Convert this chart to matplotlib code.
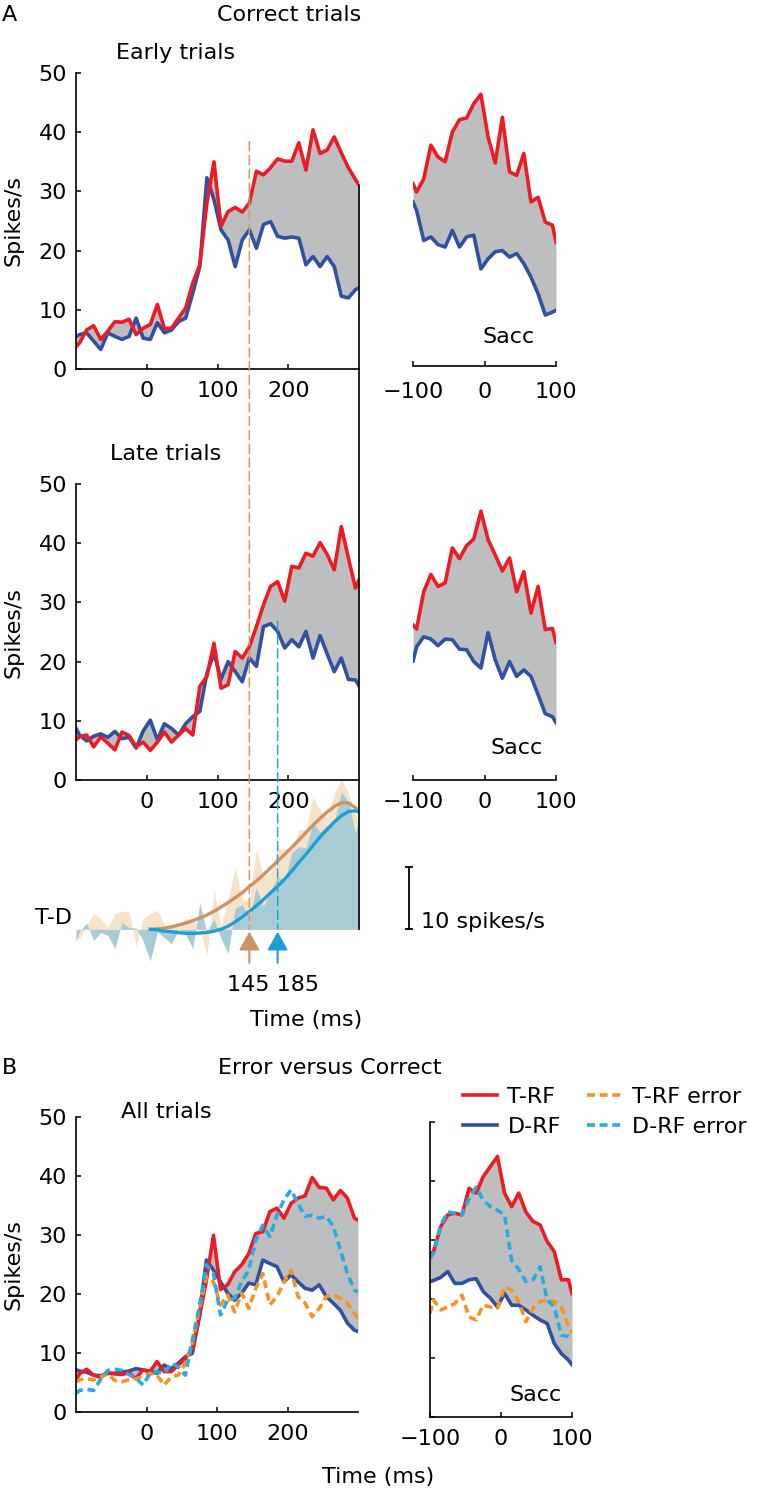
import matplotlib.pyplot as plt
import numpy as np
from matplotlib.patches import ConnectionPatch

plt.rcParams['font.family'] = ['DejaVu Sans']
plt.rcParams['font.size'] = 16

W, H = 763, 1491

# time bins (ms): aligned on stimulus and on saccade
t_stim = np.r_[-100, np.arange(-95, 300, 10), 300]
t_sacc = np.r_[-100, np.arange(-95, 100, 10), 100]
t_fit = np.r_[np.arange(5, 300, 10), 300]

# A, early trials (spikes/s)
early_t = [3.8, 4.4, 6.6, 7.3, 5.0, 6.4, 8.0, 7.9, 8.4, 5.8, 6.9, 7.5, 10.9, 6.8,
           6.9, 8.6, 10.3, 14.5, 17.6, 28.0, 35.0, 24.1, 26.6, 27.3, 26.5, 28.0,
           33.4, 32.8, 34.0, 35.5, 35.1, 35.1, 38.2, 33.6, 40.4, 36.4, 37.0, 39.2,
           36.5, 34.0, 32.0, 31.1]
early_d = [5.5, 5.8, 6.1, 4.7, 3.3, 6.1, 5.5, 5.0, 5.5, 8.6, 5.2, 5.0, 7.8, 6.1,
           6.6, 8.0, 8.6, 12.8, 17.3, 32.3, 28.6, 23.5, 21.8, 17.3, 21.8, 23.5,
           20.4, 24.4, 24.9, 22.4, 22.1, 22.3, 22.1, 17.6, 19.0, 17.3, 19.0, 17.3,
           12.3, 12.0, 13.4, 13.7]
early_t_sacc = [30.8, 29.4, 31.6, 37.3, 35.3, 34.5, 39.5, 41.6, 41.9, 44.3, 45.9,
                38.7, 34.3, 42.0, 32.8, 32.2, 35.9, 27.7, 28.5, 24.3, 23.8, 20.9]
early_d_sacc = [27.7, 26.3, 21.2, 21.8, 20.5, 20.1, 22.9, 20.1, 21.8, 22.1, 16.4,
                18.1, 19.3, 19.5, 18.4, 19.0, 17.3, 15.0, 12.2, 8.6, 9.1, 9.4]

# A, late trials
late_t = [6.8, 7.3, 7.6, 5.6, 7.3, 6.2, 5.1, 8.1, 7.5, 5.6, 6.4, 5.0, 6.4, 8.1,
          6.4, 7.6, 8.7, 7.6, 15.8, 17.5, 23.1, 15.5, 16.1, 21.7, 20.6, 22.5,
          25.9, 29.6, 32.7, 33.5, 30.2, 36.1, 35.8, 38.3, 37.8, 40.1, 38.1, 35.5,
          42.8, 37.5, 32.4, 33.8]
late_d = [8.7, 7.6, 6.6, 7.4, 7.8, 7.2, 8.2, 7.0, 7.2, 5.4, 8.3, 10.1, 6.8, 9.5,
          8.7, 7.6, 9.5, 10.7, 11.6, 18.0, 21.4, 17.0, 20.0, 18.3, 16.6, 20.6,
          19.2, 25.9, 26.4, 25.1, 22.3, 23.7, 22.5, 25.1, 20.6, 24.4, 21.3, 18.3,
          20.6, 17.0, 16.9, 15.9]
late_t_sacc = [26.2, 25.5, 31.8, 34.7, 32.7, 33.3, 39.2, 37.4, 39.6, 40.7, 45.4,
               40.6, 38.0, 35.3, 37.5, 31.8, 35.2, 28.2, 32.7, 25.4, 25.6, 23.2]
late_d_sacc = [20.1, 22.5, 24.2, 23.8, 22.7, 23.8, 23.7, 22.1, 22.0, 20.0, 18.9,
               24.9, 20.3, 17.2, 20.0, 17.5, 18.6, 17.5, 14.4, 11.2, 10.7, 9.7]

# fitted T-D curves and onsets
fit_early = [0.0, 0.05, 0.2, 0.4, 0.7, 1.0, 1.4, 1.8, 2.3, 2.9, 3.6, 4.3, 5.1, 5.9,
             6.9, 7.8, 8.8, 9.9, 11.0, 12.1, 13.2, 14.4, 15.6, 16.8, 17.9, 18.9,
             19.8, 20.4, 20.4, 19.6, 19.0]
fit_late = [0.0, -0.1, -0.3, -0.4, -0.55, -0.65, -0.65, -0.6, -0.5, -0.3, 0.0, 0.5,
            1.2, 2.0, 2.9, 3.8, 4.8, 5.9, 6.9, 8.1, 9.4, 10.8, 12.1, 13.5, 14.9,
            16.1, 17.3, 18.3, 19.0, 19.1, 18.9]
onset_early = 145
onset_late = 185

# B, all trials, correct and error
all_t = [5.4, 6.4, 7.2, 6.2, 5.8, 6.6, 6.4, 6.3, 6.6, 5.6, 7.1, 6.8, 8.5, 6.8,
         6.8, 7.9, 9.0, 10.7, 16.1, 22.3, 29.9, 20.7, 21.5, 23.7, 24.9, 26.8,
         30.2, 30.5, 33.9, 34.5, 32.8, 35.3, 36.2, 36.6, 39.7, 38.0, 37.9, 35.9,
         37.5, 36.2, 32.8, 32.5]
all_d = [7.1, 6.9, 6.7, 6.2, 6.1, 6.5, 6.5, 6.7, 6.9, 7.3, 7.1, 6.8, 6.5, 7.9,
         7.3, 8.2, 9.3, 9.9, 16.1, 25.7, 24.0, 22.0, 20.1, 18.9, 20.1, 21.8,
         21.5, 25.7, 25.1, 24.6, 22.0, 23.2, 22.0, 20.9, 20.6, 21.5, 19.5, 18.4,
         17.2, 15.0, 13.8, 13.6]
all_t_err = [5.1, 5.4, 5.6, 5.4, 5.9, 6.5, 5.3, 5.1, 5.4, 5.6, 5.9, 6.5, 6.2, 4.5,
             5.9, 6.2, 8.2, 11.6, 17.5, 22.9, 22.0, 18.1, 19.8, 16.9, 20.1, 17.5,
             20.9, 23.4, 18.1, 19.5, 22.0, 24.0, 19.5, 18.4, 16.1, 17.5, 19.5, 19.8,
             19.2, 18.4, 16.7, 15.8]
all_d_err = [3.1, 3.6, 3.8, 3.6, 5.5, 7.0, 7.2, 7.0, 6.3, 5.7, 4.5, 6.5, 6.8, 6.5,
             8.2, 7.6, 6.2, 12.1, 17.8, 24.9, 23.4, 16.4, 18.9, 19.2, 22.0, 24.0,
             29.1, 31.6, 29.7, 33.3, 35.9, 37.6, 35.3, 33.1, 33.3, 32.8, 33.1, 31.4,
             27.4, 23.4, 20.6, 20.3]
all_t_sacc = [27.4, 28.0, 32.2, 34.2, 34.5, 34.2, 38.7, 37.9, 40.7, 42.4, 44.1,
              37.9, 35.6, 37.9, 34.7, 33.1, 32.5, 29.7, 28.0, 23.2, 23.2, 20.9]
all_d_sacc = [22.9, 23.1, 23.6, 24.6, 22.6, 22.6, 23.2, 23.4, 21.2, 20.1, 18.6,
              20.9, 18.9, 18.9, 18.1, 17.2, 16.4, 15.8, 12.4, 10.7, 9.6, 8.8]
all_t_err_sacc = [17.5, 19.8, 18.1, 18.6, 19.2, 20.6, 16.9, 16.4, 18.9, 18.6, 18.4,
                  22.0, 21.5, 19.5, 16.1, 18.4, 19.5, 19.8, 19.5, 18.6, 15.3, 14.1]
all_d_err_sacc = [26.8, 27.7, 32.5, 34.7, 34.5, 34.2, 37.0, 38.9, 36.7, 35.6, 35.0,
                  34.2, 26.5, 25.0, 22.9, 23.2, 25.4, 19.8, 18.6, 13.8, 13.6, 13.0]

red = '#ed1c24'
blue = '#3050a0'
gray = '#bcbec0'
orange = '#f7941d'
cyan = '#29abe2'
brown = '#cd9360'
teal_line = '#1e9fd4'
tan_fill = '#f6e3c9'
teal_fill = '#a8ccd4'
dash = (0, (2.2, 1.3))

fig = plt.figure(figsize=(W / 100, H / 100), dpi=100)


def box(left, right, top, bottom):
    return fig.add_axes([left / W, 1 - bottom / H, (right - left) / W, (bottom - top) / H])


def ftext(x, y, s, **kw):
    fig.text(x / W, 1 - y / H, s, **kw)


def style(ax, xlim, xticks, yaxis=True, ylabels=True, xpad=8.5):
    ax.set_facecolor('none')
    ax.set_xlim(*xlim)
    ax.set_ylim(0, 50)
    ax.set_xticks(xticks)
    ax.set_yticks(range(0, 51, 10))
    for s in ['top', 'right']:
        ax.spines[s].set_visible(False)
    for s in ['left', 'bottom']:
        ax.spines[s].set_linewidth(1.2)
    ax.tick_params(direction='in', length=3.5, width=1.1)
    ax.tick_params(axis='x', pad=xpad)
    ax.tick_params(axis='y', pad=6.5)
    if not yaxis:
        ax.spines['left'].set_visible(False)
        ax.tick_params(axis='y', left=False, labelleft=False)
    elif not ylabels:
        ax.tick_params(axis='y', labelleft=False)


def panel(ax, t, tr, dr):
    ax.fill_between(t, tr, dr, color=gray, lw=0)
    ax.plot(t, dr, color=blue, lw=2.6)
    ax.plot(t, tr, color=red, lw=2.6)


# ---- A: early trials
ax1 = box(76, 359, 73, 369)
style(ax1, (-100, 300), [0, 100, 200])
panel(ax1, t_stim, early_t, early_d)
ax1.text(41, 53.4, 'Early trials', ha='center', va='center')

ax1r = box(413, 556, 70, 366)
style(ax1r, (-100, 100), [-100, 0, 100], yaxis=False, xpad=11.5)
panel(ax1r, t_sacc, early_t_sacc, early_d_sacc)
ax1r.text(34, 4.9, 'Sacc', ha='center', va='center')

# ---- A: late trials
ax2 = box(76, 359, 484, 780)
style(ax2, (-100, 300), [0, 100, 200])
panel(ax2, t_stim, late_t, late_d)
ax2.text(26, 55, 'Late trials', ha='center', va='center')

ax2r = box(413, 556, 484, 780)
style(ax2r, (-100, 100), [-100, 0, 100], yaxis=False)
panel(ax2r, t_sacc, late_t_sacc, late_d_sacc)
ax2r.text(45, 5.4, 'Sacc', ha='center', va='center')

# ---- A: T-D difference
base, k = 929.3, 6.2
ax3 = box(76, 359, base - 24 * k, base + 8 * k)
ax3.set_zorder(-0.5)
ax3.set_facecolor('none')
ax3.set_xlim(-100, 300)
ax3.set_ylim(-8, 24)
ax3.axis('off')
ax3.fill_between(t_stim, np.subtract(early_t, early_d), 0, color=tan_fill, lw=0)
ax3.fill_between(t_stim, np.subtract(late_t, late_d), 0, color=teal_fill, lw=0)
ax3.plot(t_fit, fit_early, color=brown, lw=2.4)
ax3.plot(t_fit, fit_late, color=teal_line, lw=2.4)
for t0, c in [(onset_early, brown), (onset_late, teal_line)]:
    ax3.annotate('', xy=(t0, -0.4), xytext=(t0, -5.4), annotation_clip=False,
                 arrowprops=dict(arrowstyle='-|>,head_length=0.8,head_width=0.45',
                                 mutation_scale=14, color=c, lw=1.5,
                                 shrinkA=0, shrinkB=0))
ax3.text(178, -9.0, f'{onset_early} {onset_late}', ha='center', va='center',
         clip_on=False)
ax3.text(-105, 1.8, 'T-D', ha='right', va='center', clip_on=False)
ax3.plot([370, 370], [0, 10], color='k', lw=1.3, clip_on=False)
ax3.plot([370, 370], [0, 10], ls='none', marker='_', ms=6, mew=1.3, color='k',
         clip_on=False)
ax3.text(387, 1.2, '10 spikes/s', ha='left', va='center', clip_on=False)


def link(axA, xyA, axB, xyB, **kw):
    con = ConnectionPatch(xyA=xyA, coordsA=axA.transData, xyB=xyB,
                          coordsB=axB.transData, **kw)
    fig.add_artist(con)


link(ax1, (300, early_t[-1]), ax3, (300, 0), color='k', lw=1.2)
link(ax1, (onset_early, 38.4), ax3, (onset_early, 0), color='#d8975f', lw=1.1,
     linestyle=(0, (6, 3)))
link(ax2, (onset_late, 26.8), ax3, (onset_late, 0), color='#2aa4d5', lw=1.1,
     linestyle=(0, (6, 3)))

# ---- B: error versus correct
ax4 = box(76, 358, 1116.7, 1411.7)
style(ax4, (-100, 300), [0, 100, 200])
ax4.fill_between(t_stim, all_t, all_d, color=gray, lw=0)
h_d, = ax4.plot(t_stim, all_d, color=blue, lw=2.6, label='D-RF')
h_t, = ax4.plot(t_stim, all_t, color=red, lw=2.6, label='T-RF')
h_te, = ax4.plot(t_stim, all_t_err, color=orange, lw=2.6, ls=dash, label='T-RF error')
h_de, = ax4.plot(t_stim, all_d_err, color=cyan, lw=2.6, ls=dash, label='D-RF error')
ax4.text(28, 50.8, 'All trials', ha='center', va='center')

ax4r = box(430, 572, 1121.7, 1416.7)
style(ax4r, (-100, 100), [-100, 0, 100], ylabels=False)
ax4r.fill_between(t_sacc, all_t_sacc, all_d_sacc, color=gray, lw=0)
ax4r.plot(t_sacc, all_d_sacc, color=blue, lw=2.6)
ax4r.plot(t_sacc, all_t_sacc, color=red, lw=2.6)
ax4r.plot(t_sacc, all_t_err_sacc, color=orange, lw=2.6, ls=dash)
ax4r.plot(t_sacc, all_d_err_sacc, color=cyan, lw=2.6, ls=dash)
ax4r.text(49, 3.7, 'Sacc', ha='center', va='center')

fig.legend([h_t, h_d, h_te, h_de], ['T-RF', 'D-RF', 'T-RF error', 'D-RF error'],
           loc='upper left', bbox_to_anchor=(463 / W, 1 - 1087 / H), ncol=2,
           frameon=False, borderaxespad=0, borderpad=0, handlelength=1.55,
           handletextpad=0.45, columnspacing=1.2, labelspacing=0.45, fontsize=16)

# ---- texts
ftext(9.5, 15, 'A', ha='center', va='center')
ftext(289, 15, 'Correct trials', ha='center', va='center')
ftext(9.5, 1068, 'B', ha='center', va='center')
ftext(330, 1068, 'Error versus Correct', ha='center', va='center')
for yc in [221, 632, 1264]:
    ftext(14, yc, 'Spikes/s', ha='center', va='center', rotation=90)
ftext(306.5, 1020, 'Time (ms)', ha='center', va='center')
ftext(378, 1477, 'Time (ms)', ha='center', va='center')

fig.savefig('out.png', dpi=100)
